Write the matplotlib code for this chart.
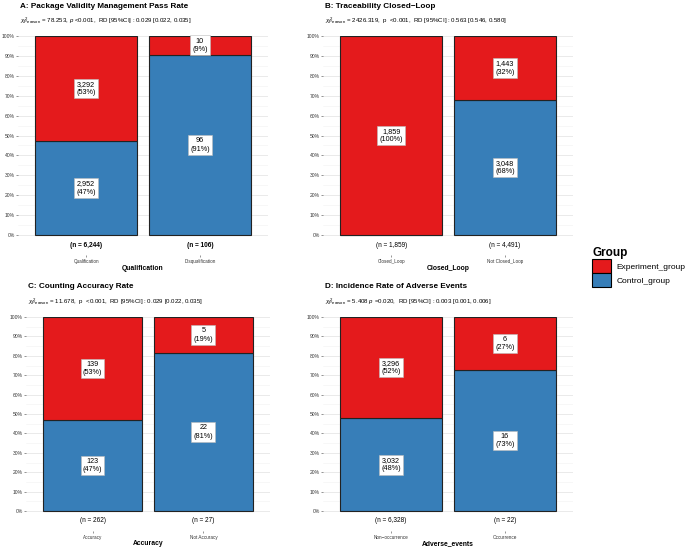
import matplotlib
matplotlib.use("Agg")
import matplotlib.pyplot as plt
from matplotlib.patches import Patch
import numpy as np

plt.rcParams['font.family'] = ['Liberation Sans', 'DejaVu Sans']
plt.rcParams['mathtext.fontset'] = 'custom'
plt.rcParams['mathtext.rm'] = 'Liberation Sans'
plt.rcParams['mathtext.it'] = 'Liberation Sans:italic'
plt.rcParams['mathtext.bf'] = 'Liberation Sans:bold'

RED = '#E41A1C'
BLUE = '#377EB8'

# ---------------- data ----------------
titles = ["A: Package Validity Management Pass Rate",
          "B: Traceability Closed\u2212Loop",
          "C: Counting Accuracy Rate",
          "D: Incidence Rate of Adverse Events"]
subtitles = [r"$\chi^2_{\mathrm{Pearson}}$ = 78.253, $p$ <0.001,  RD [95%CI] : 0.029 [0.022, 0.035]",
             r"$\chi^2_{\mathrm{Pearson}}$ = 2426.319,  p  <0.001,  RD [95%CI] : 0.563 [0.546, 0.580]",
             r"$\chi^2_{\mathrm{Pearson}}$ = 11.678,  p  <0.001,  RD [95%CI] : 0.029 [0.022, 0.035]",
             r"$\chi^2_{\mathrm{Pearson}}$ = 5.408 $p$ =0.020,  RD [95%CI] : 0.003 [0.001, 0.006]"]
xtitles = ["Qualification", "Closed_Loop", "Accuracy", "Adverse_events"]

cats_A = ["Qualification", "Disqualification"]
exp_A = [3292, 10]
ctrl_A = [2952, 96]

cats_B = ["Closed_Loop", "Not Closed_Loop"]
exp_B = [1859, 1443]
ctrl_B = [0, 3048]

cats_C = ["Accuracy", "Not Accuracy"]
exp_C = [139, 5]
ctrl_C = [123, 22]

cats_D = ["Non\u2212occurrence", "Occurrence"]
exp_D = [3296, 6]
ctrl_D = [3032, 16]

panels = [(cats_A, exp_A, ctrl_A), (cats_B, exp_B, ctrl_B),
          (cats_C, exp_C, ctrl_C), (cats_D, exp_D, ctrl_D)]
n_bold = [True, False, False, False]

W, H = 685, 549
fig = plt.figure(figsize=(W / 100, H / 100), dpi=100)

# axes rectangles in pixels: left, right, top(100%), bottom(-0.1)
rects = [(18, 268, 36, 255), (323, 573, 36, 255),
         (26, 270, 317, 530.5), (323, 573, 317, 530.5)]

for i, (rect, (cats, ex, ct)) in enumerate(zip(rects, panels)):
    l, r, t, b = rect
    ax = fig.add_axes([l / W, (H - b) / H, (r - l) / W, (b - t) / H])
    ex = np.array(ex, float)
    ct = np.array(ct, float)
    n = ex + ct
    pe = ex / n
    pc = ct / n
    x = np.arange(1, len(cats) + 1)
    ax.bar(x, pc, width=0.9, color=BLUE, edgecolor='#222222', linewidth=0.8, zorder=3)
    ax.bar(x, pe, bottom=pc, width=0.9, color=RED, edgecolor='#222222', linewidth=0.8, zorder=3)
    for xi, e, c, p1, p2, nn in zip(x, ex, ct, pe, pc, n):
        if e > 0:
            ax.text(xi, p2 + p1 / 2, f"{int(e):,}\n({round(p1 * 100):.0f}%)", ha='center', va='center',
                    fontsize=5.2, zorder=5, linespacing=1.3,
                    bbox=dict(boxstyle='square,pad=0.3', fc='white', ec='#bbbbbb', lw=0.4))
        if c > 0:
            ax.text(xi, p2 / 2, f"{int(c):,}\n({round(p2 * 100):.0f}%)", ha='center', va='center',
                    fontsize=5.2, zorder=5, linespacing=1.3,
                    bbox=dict(boxstyle='square,pad=0.3', fc='white', ec='#bbbbbb', lw=0.4))
        ax.text(xi, -0.05, f"(n = {int(nn):,})", ha='center', va='center', fontsize=4.7,
                fontweight='bold' if n_bold[i] else 'normal', color='black')
    ax.set_xlim(0.4, 2.6)
    ax.set_ylim(-0.1, 1.0)
    ax.set_yticks(np.arange(0, 1.01, 0.1))
    ax.set_yticklabels([f"{int(round(v * 100))}%" for v in np.arange(0, 1.01, 0.1)])
    ax.set_yticks(np.arange(0.05, 1.0, 0.1), minor=True)
    for v in np.arange(0, 1.01, 0.1):
        ax.axhline(v, color='#e6e6e6', lw=0.6, zorder=0)
    for v in np.arange(0.05, 1.0, 0.1):
        ax.axhline(v, color='#f2f2f2', lw=0.4, zorder=0)
    ax.tick_params(axis='y', which='major', labelsize=3.6, length=1.5, width=0.4,
                   color='#444444', labelcolor='#333333', pad=1)
    ax.tick_params(axis='y', which='minor', length=0)
    ax.set_xticks(x)
    ax.set_xticklabels(cats)
    ax.tick_params(axis='x', labelsize=3.3, length=1.5, width=0.4, color='#444444',
                   labelcolor='#333333', pad=1.5)
    ax.set_xlabel(xtitles[i], fontsize=4.9, fontweight='bold', labelpad=0.5)
    for s in ax.spines.values():
        s.set_visible(False)
    ax.annotate(titles[i], xy=(0, 1), xycoords='axes fraction', xytext=(2, 30),
                textcoords='offset pixels', ha='left', va='center', fontsize=5.9, fontweight='bold')
    ax.annotate(subtitles[i], xy=(0, 1), xycoords='axes fraction', xytext=(2, 15),
                textcoords='offset pixels', ha='left', va='center', fontsize=4.4)

handles = [Patch(facecolor=RED, edgecolor='black', linewidth=0.8, label='Experiment_group'),
           Patch(facecolor=BLUE, edgecolor='black', linewidth=0.8, label='Control_group')]
leg = fig.legend(handles=handles, title='Group', loc='upper left',
                 bbox_to_anchor=(589 / W, 1 - 244 / H), frameon=False, fontsize=6,
                 title_fontproperties={'weight': 'bold', 'size': 8.5},
                 handlelength=2.2, handleheight=2.2, labelspacing=0.0, handletextpad=0.7,
                 borderaxespad=0)
leg._legend_box.align = 'left'

fig.savefig('out.png', dpi=100)
